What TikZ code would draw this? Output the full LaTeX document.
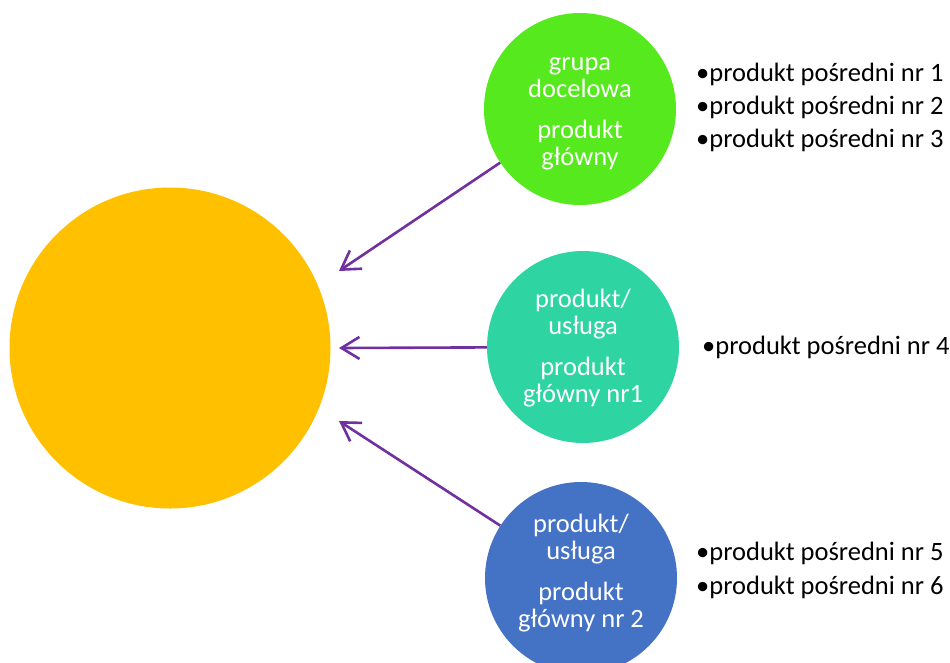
\documentclass[tikz,border=0pt]{standalone}
\usepackage{fontspec}
\setmainfont{Carlito}
\usetikzlibrary{arrows.meta}
\definecolor{corange}{HTML}{FFC000}
\definecolor{cgreen}{HTML}{56E91E}
\definecolor{cteal}{HTML}{2ED5A3}
\definecolor{cblue}{HTML}{4472C4}
\definecolor{cpurple}{HTML}{7030A0}
\tikzset{
  bigc/.style={circle, fill=corange, minimum size=321pt, inner sep=0pt},
  smallc/.style={circle, minimum size=192pt, inner sep=0pt},
  ctext/.style={text=white, align=center, inner sep=0pt,
     font=\fontsize{26.5}{27.5}\selectfont},
  conn/.style={draw=cpurple, line width=2.6pt, -{Straight Barb[length=18pt,width=22pt,line width=2.6pt]}},
  listtxt/.style={anchor=west, font=\fontsize{26.5}{28}\selectfont, inner sep=0pt},
}
\begin{document}
\begin{tikzpicture}[x=1pt,y=-1pt]
\useasboundingbox (0,0) rectangle (950,662);
\node[bigc] (main) at (170,348) {};
\node[smallc, fill=cgreen] (g) at (580,109) {};
\node[smallc, fill=cteal] (t) at (583,347) {};
\node[smallc, fill=cblue] (b) at (581,578) {};
\node[ctext] (gt) at (580,114) {grupa\\docelowa\\[13pt]produkt\\główny};
\node[ctext] (tt) at (583,348) {produkt/\\usługa\\[13pt]produkt\\główny nr1};
\node[ctext] (bt) at (581,573) {produkt/\\usługa\\[13pt]produkt\\główny nr 2};
\coordinate (e1) at (339,271);
\coordinate (e2) at (339,348);
\coordinate (e3) at (339,421);
\draw[conn] (g) -- (e1);
\draw[conn] (t) -- (e2);
\draw[conn] (b) -- (e3);
\node[listtxt] (l1) at (696,74) {•produkt pośredni nr 1};
\node[listtxt] (l2) at (696,107) {•produkt pośredni nr 2};
\node[listtxt] (l3) at (696,140) {•produkt pośredni nr 3};
\node[listtxt] (l4) at (702,347) {•produkt pośredni nr 4};
\node[listtxt] (l5) at (696,553) {•produkt pośredni nr 5};
\node[listtxt] (l6) at (696,587) {•produkt pośredni nr 6};
\end{tikzpicture}
\end{document}
